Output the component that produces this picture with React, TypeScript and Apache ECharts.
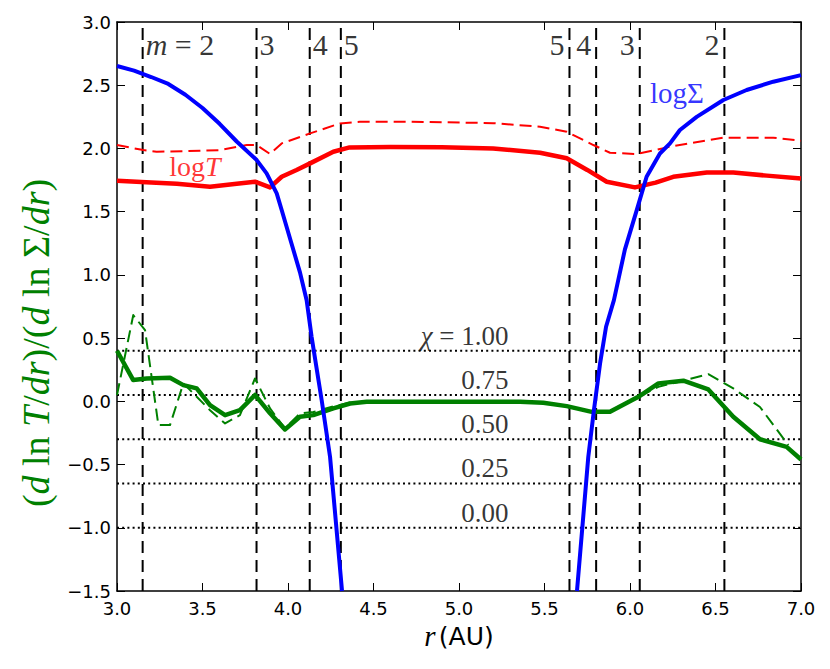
import React, { useEffect, useRef } from "react";
import * as echarts from "echarts";

// ---- data ----
const resonanceInner = [3.150, 3.816, 4.127, 4.309];
const resonanceOuter = [5.646, 5.802, 6.057, 6.552];
const resonanceInnerLabels = ["m=2", "3", "4", "5"];
const resonanceOuterLabels = ["5", "4", "3", "2"];

const chiValues = ["1.00", "0.75", "0.50", "0.25", "0.00"];
const chiLevels = [0.4, 0.05, -0.3, -0.65, -1.0];

const rSigmaInner = [3.0, 3.1, 3.2, 3.3, 3.4, 3.5, 3.6, 3.7, 3.817, 3.875, 3.934, 3.963, 4.02, 4.07, 4.109, 4.138, 4.197, 4.246, 4.316];
const logSigmaInner = [2.652, 2.615, 2.565, 2.51, 2.425, 2.32, 2.195, 2.055, 1.908, 1.803, 1.645, 1.513, 1.25, 1.02, 0.8, 0.51, 0.009, -0.44, -1.5];
const rSigmaOuter = [5.69, 5.756, 5.789, 5.825, 5.86, 5.906, 5.97, 6.039, 6.097, 6.175, 6.234, 6.292, 6.39, 6.546, 6.682, 6.838, 7.0];
const logSigmaOuter = [-1.5, -0.44, -0.07, 0.3, 0.59, 0.8, 1.2, 1.51, 1.776, 1.96, 2.04, 2.146, 2.25, 2.383, 2.462, 2.528, 2.58];

const rT = [3.0, 3.2, 3.35, 3.544, 3.7, 3.807, 3.895, 3.963, 4.05, 4.129, 4.265, 4.36, 4.6, 4.9, 5.2, 5.474, 5.63, 5.75, 5.864, 6.029, 6.15, 6.253, 6.449, 6.604, 6.8, 7.0];
const logT = [1.745, 1.73, 1.72, 1.697, 1.72, 1.737, 1.692, 1.776, 1.83, 1.882, 1.974, 2.008, 2.012, 2.01, 2.0, 1.966, 1.922, 1.83, 1.737, 1.692, 1.73, 1.776, 1.81, 1.81, 1.785, 1.763];

const rT2 = [3.0, 3.154, 3.232, 3.485, 3.602, 3.758, 3.817, 3.895, 3.963, 4.129, 4.304, 4.42, 4.8, 5.2, 5.474, 5.63, 5.786, 5.883, 6.039, 6.253, 6.546, 6.838, 7.0];
const logT2 = [2.027, 1.987, 1.974, 1.982, 1.987, 2.027, 2.027, 1.956, 2.04, 2.119, 2.198, 2.211, 2.21, 2.2, 2.172, 2.132, 2.027, 1.966, 1.956, 2.019, 2.085, 2.085, 2.061];

const rRatio = [3.0, 3.095, 3.174, 3.31, 3.388, 3.466, 3.544, 3.632, 3.719, 3.807, 3.895, 3.982, 4.07, 4.148, 4.265, 4.363, 4.46, 5.0, 5.357, 5.493, 5.63, 5.776, 5.883, 6.049, 6.166, 6.312, 6.458, 6.604, 6.76, 6.916, 7.0];
const ratio = [0.4, 0.168, 0.181, 0.186, 0.128, 0.102, -0.03, -0.109, -0.07, 0.05, -0.095, -0.222, -0.122, -0.109, -0.056, -0.017, -0.004, -0.004, -0.004, -0.012, -0.038, -0.083, -0.083, 0.036, 0.142, 0.163, 0.094, -0.122, -0.3, -0.36, -0.46];

const rRatio2 = [3.0, 3.095, 3.164, 3.242, 3.31, 3.388, 3.466, 3.544, 3.632, 3.719, 3.807, 3.895, 3.982, 4.07, 4.148, 4.265, 4.363, 4.46, 5.0, 5.357, 5.493, 5.63, 5.776, 5.883, 6.049, 6.166, 6.312, 6.458, 6.604, 6.76, 6.926];
const ratio2 = [0.05, 0.682, 0.563, -0.188, -0.188, 0.142, 0.036, -0.07, -0.175, -0.109, 0.181, -0.056, -0.214, -0.096, -0.085, -0.04, -0.01, -0.004, -0.004, -0.004, -0.012, -0.038, -0.083, -0.083, 0.036, 0.115, 0.163, 0.215, 0.102, -0.045, -0.346];

const X_MIN = 3.0, X_MAX = 7.0, Y_MIN = -1.5, Y_MAX = 3.0;

const pairs = (xs: number[], ys: number[]) => xs.map((x, i) => [x, ys[i]]);
const fmt = (v: number) => {
  const s = Math.abs(v).toFixed(1);
  return v < 0 ? "\u2212" + s : s;
};

const SERIF = "Liberation Serif";
const SANS = "DejaVu Sans";
const Y_TITLE = "{p|(}{i|d}{p| ln }{i|T}{p|/}{i|dr}{p|)/(}{i|d}{p| ln }{p|Σ}{p|/}{i|dr}{p|)}";

export default function App() {
  const ref = useRef<HTMLDivElement>(null);
  useEffect(() => {
    document.body.style.margin = "0";
    const chart = echarts.init(ref.current!, null, { renderer: "svg" });

    const axisCommon = {
      type: "value" as const,
      axisLine: { show: true, onZero: false, lineStyle: { color: "#000", width: 1.5 } },
      axisTick: { show: true, inside: true, length: 8, lineStyle: { color: "#000", width: 1 } },
      splitLine: { show: false },
    };

    const series: any[] = [];

    [...resonanceInner, ...resonanceOuter].forEach((r) => {
      series.push({
        type: "line",
        data: [[r, Y_MIN], [r, Y_MAX]],
        symbol: "none",
        silent: true,
        z: 1,
        lineStyle: { color: "#000", width: 2, type: [12, 7] },
      });
    });
    chiLevels.forEach((y) => {
      series.push({
        type: "line",
        data: [[X_MIN, y], [X_MAX, y]],
        symbol: "none",
        silent: true,
        z: 1,
        lineStyle: { color: "#000", width: 2, type: [2, 3.2] },
      });
    });

    const curve = (data: number[][], color: string, width: number, dashed: boolean, z: number) => ({
      type: "line",
      data,
      symbol: "none",
      z,
      clip: true,
      lineStyle: { color, width, type: dashed ? [12, 6] : "solid", cap: "butt", join: "round" },
    });

    series.push(curve(pairs(rT2, logT2), "#ff0000", 2, true, 3));
    series.push(curve(pairs(rT, logT), "#ff0000", 4.5, false, 3));
    series.push(curve(pairs(rRatio2, ratio2), "#008000", 2, true, 3));
    series.push(curve(pairs(rRatio, ratio), "#008000", 4.5, false, 3));
    series.push(curve(pairs(rSigmaInner, logSigmaInner), "#0000ff", 4, false, 4));
    series.push(curve(pairs(rSigmaOuter, logSigmaOuter), "#0000ff", 4, false, 4));

    const textRich = (size: number, color: string) => ({
      i: { fontFamily: SERIF, fontStyle: "italic", fontSize: size, color },
      n: { fontFamily: SERIF, fontSize: size, color },
    });

    const resLabelData: any[] = [];
    resonanceInner.forEach((r, k) => {
      const t = resonanceInnerLabels[k];
      resLabelData.push({
        value: [r, 2.82],
        label: {
          position: "right",
          distance: 3,
          formatter: t.startsWith("m=") ? "{i|m}{n| = " + t.slice(2) + "}" : "{n|" + t + "}",
        },
      });
    });
    resonanceOuter.forEach((r, k) => {
      resLabelData.push({
        value: [r, 2.82],
        label: { position: "left", distance: 5, formatter: "{n|" + resonanceOuterLabels[k] + "}" },
      });
    });
    series.push({
      type: "scatter",
      data: resLabelData,
      symbolSize: 0,
      silent: true,
      z: 6,
      label: { show: true, color: "#000", rich: textRich(30, "#000") },
    });

    series.push({
      type: "scatter",
      symbolSize: 0,
      silent: true,
      z: 6,
      data: chiLevels.map((y, k) => ({
        value: [5.29, y + 0.12],
        label: { formatter: k === 0 ? "{i|χ}{n| = " + chiValues[k] + "}" : "{n|" + chiValues[k] + "}" },
      })),
      label: { show: true, color: "#000", position: "left", distance: 0, rich: textRich(27, "#000") },
    });

    series.push({
      type: "scatter",
      symbolSize: 0,
      silent: true,
      z: 6,
      data: [
        { value: [3.456, 1.86], label: { formatter: "{r|log}{ri|T}" } },
        { value: [6.275, 2.44], label: { formatter: "{b|logΣ}" } },
      ],
      label: {
        show: true,
        position: "inside",
        rich: {
          r: { fontFamily: SERIF, fontSize: 28, color: "#ff0000" },
          ri: { fontFamily: SERIF, fontSize: 28, fontStyle: "italic", color: "#ff0000" },
          b: { fontFamily: SERIF, fontSize: 29, color: "#0000ff" },
        },
      },
    });

    const option: any = {
      animation: false,
      backgroundColor: "#fff",
      grid: { left: 117, right: 29, top: 22, bottom: 78, containLabel: false },
      graphic: [
        {
          type: "text",
          x: 36,
          y: 343,
          rotation: Math.PI / 2,
          style: {
            text: Y_TITLE,
            align: "center",
            verticalAlign: "middle",
            rich: {
              p: { fontFamily: SERIF, fontSize: 38, fill: "#008000", color: "#008000" },
              i: { fontFamily: SERIF, fontStyle: "italic", fontSize: 38, fill: "#008000", color: "#008000" },
            },
          },
        },
      ],
      xAxis: [
        {
          ...axisCommon,
          min: X_MIN,
          max: X_MAX,
          interval: 0.5,
          axisLabel: { formatter: fmt, fontSize: 18, color: "#000", fontFamily: SANS, margin: 8 },
          name: "{i|r} {s|(AU)}",
          nameLocation: "middle",
          nameGap: 28,
          nameTextStyle: {
            rich: {
              i: { fontFamily: SERIF, fontStyle: "italic", fontSize: 29, color: "#000" },
              s: { fontFamily: SANS, fontSize: 25, color: "#000" },
            },
          },
        },
        {
          ...axisCommon,
          position: "top",
          min: X_MIN,
          max: X_MAX,
          interval: 0.5,
          axisLabel: { show: false },
        },
      ],
      yAxis: [
        {
          ...axisCommon,
          min: Y_MIN,
          max: Y_MAX,
          interval: 0.5,
          axisLabel: { formatter: fmt, fontSize: 18, color: "#000", fontFamily: SANS, margin: 6 },
        },
        {
          ...axisCommon,
          position: "right",
          min: Y_MIN,
          max: Y_MAX,
          interval: 0.5,
          axisLabel: { show: false },
        },
      ],
      series,
    };
    chart.setOption(option);
    return () => chart.dispose();
  }, []);
  return <div ref={ref} style={{ width: 830, height: 669 }} />;
}
